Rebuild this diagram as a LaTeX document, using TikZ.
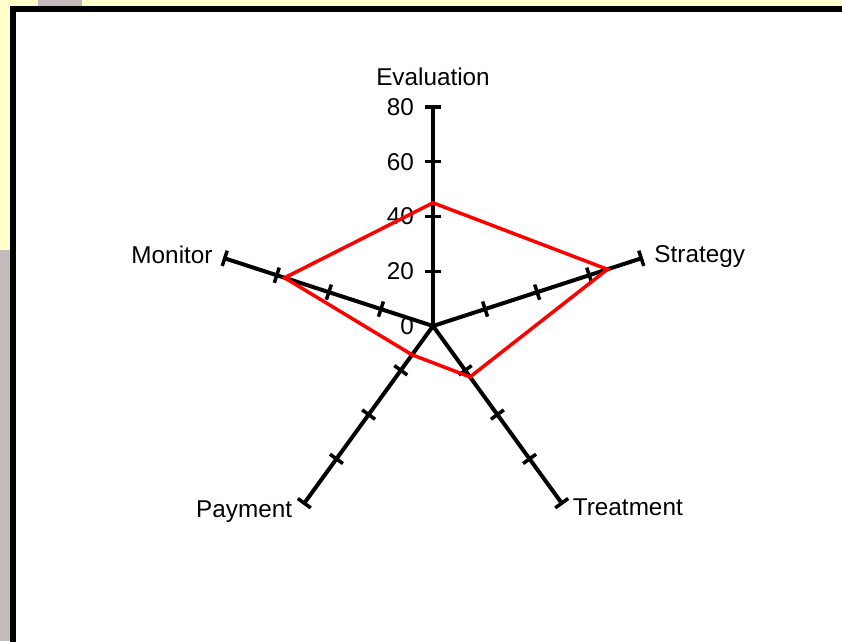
\documentclass[tikz,border=0pt]{standalone}
\usepackage{fontspec}
\setmainfont{Liberation Sans}
\usetikzlibrary{positioning,calc}

\definecolor{paleyellow}{HTML}{FFFFCC}
\definecolor{photogray}{HTML}{C4BABB}

\begin{document}
\begin{tikzpicture}[x=1pt, y=1pt,
  lbl/.style    = {font=\fontsize{24.3}{28}\selectfont, inner sep=3pt},
  spoke/.style  = {line width=4pt, black},
  tickmark/.style = {line width=3.5pt, black},
  series/.style = {line width=3.5pt, red, line join=miter},
  frame/.style  = {line width=6pt, draw=black, fill=white}
]

% , - Canvas and frame , -
\useasboundingbox (0,0) rectangle (842,641);
\clip (0,0) rectangle (842,641);
\fill[paleyellow] (0,0) rectangle (842,641);
\fill[photogray] (0,0) rectangle (10,391);
\fill[photogray] (38,635) rectangle (82,641);
\draw[frame] (13,632) rectangle (870,-20);

% , - Radar axes (80 units = 219pt) , -
\coordinate (c) at (433,315);
\foreach \name/\ang in {eval/90, strat/18, treat/-54, pay/-126, mon/162} {
  \coordinate (\name) at ($(c)+(\ang:219)$);
  \draw[spoke] (c) -- (\name);
  \foreach \v in {20,40,60,80}
    \draw[tickmark] ($(c)+(\ang:\v*2.7375)+(\ang+90:8)$)
                 -- ($(c)+(\ang:\v*2.7375)+(\ang-90:8)$);
}

% , - Scale on the vertical axis , -
\foreach \v in {0,20,40,60,80}
  \node[lbl, anchor=east] (num\v) at ($(c)+(-16,\v*2.7375)$) {\v};

% , - Axis labels , -
\node[lbl, above=18pt of eval]              (evalLbl)  {Evaluation};
\node[lbl, right=10pt of strat, yshift=2pt] (stratLbl) {Strategy};
\node[lbl, right=8pt of treat, yshift=-4pt] (treatLbl) {Treatment};
\node[lbl, left=9pt of pay, yshift=-8pt]    (payLbl)   {Payment};
\node[lbl, left=9pt of mon, yshift=4pt]     (monLbl)   {Monitor};

% , - Data series , -
\coordinate (s1) at ($(c)+(90:45*2.7375)$);
\coordinate (s2) at ($(c)+(18:67*2.7375)$);
\coordinate (s3) at ($(c)+(-54:23*2.7375)$);
\coordinate (s4) at ($(c)+(-126:13*2.7375)$);
\coordinate (s5) at ($(c)+(162:57*2.7375)$);
\draw[series] (s1) -- (s2) -- (s3) -- (s4) -- (s5) -- cycle;

\end{tikzpicture}
\end{document}
